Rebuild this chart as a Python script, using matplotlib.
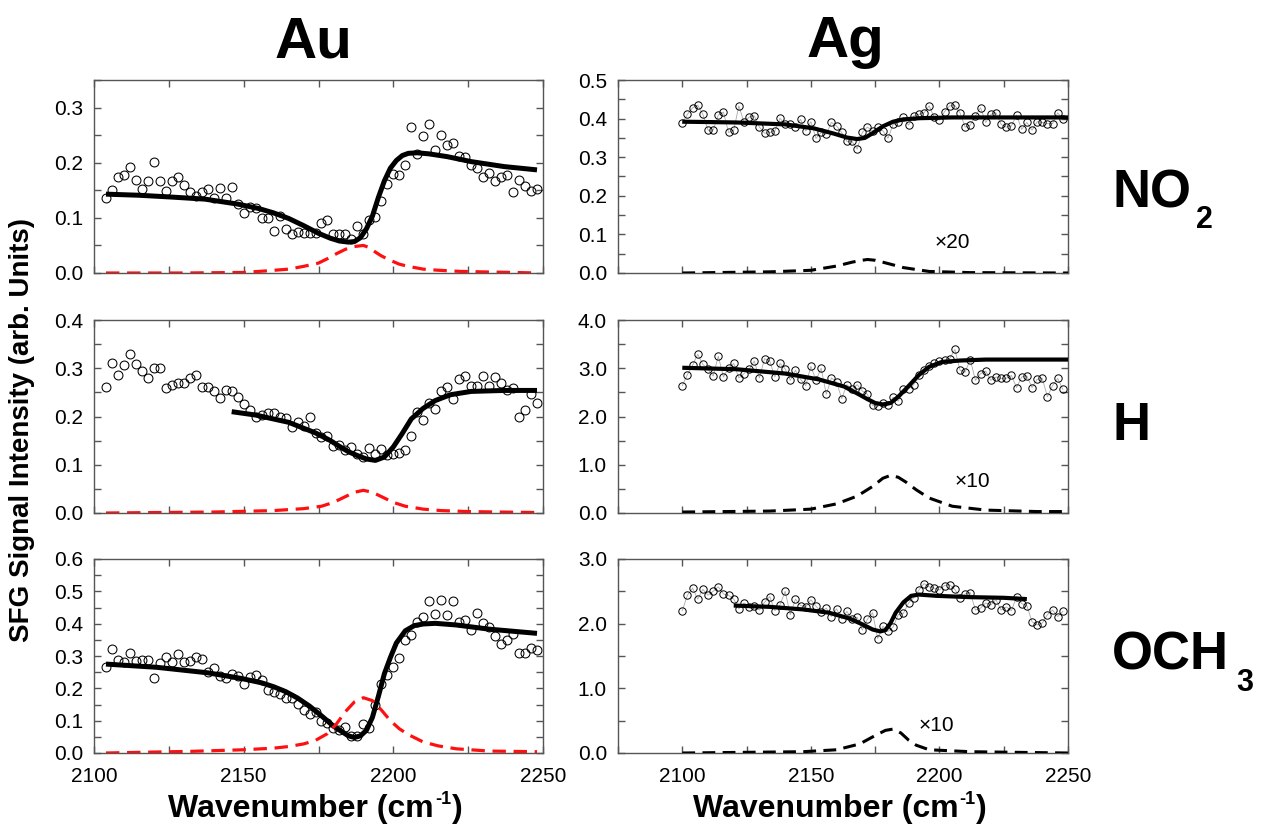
import matplotlib
matplotlib.use('Agg')
import matplotlib.pyplot as plt
from matplotlib.ticker import MultipleLocator, FormatStrFormatter

plt.rcParams['font.family'] = ['Liberation Sans', 'DejaVu Sans']

# ---------------- data ----------------
AU_WN = [2104, 2106, 2108, 2110, 2112, 2114, 2116, 2118, 2120, 2122, 2124, 2126, 2128,
         2130, 2132, 2134, 2136, 2138, 2140, 2142, 2144, 2146, 2148, 2150, 2152, 2154,
         2156, 2158, 2160, 2162, 2164, 2166, 2168, 2170, 2172, 2174, 2176, 2178, 2180,
         2182, 2184, 2186, 2188, 2190, 2192, 2194, 2196, 2198, 2200, 2202, 2204, 2206,
         2208, 2210, 2212, 2214, 2216, 2218, 2220, 2222, 2224, 2226, 2228, 2230, 2232,
         2234, 2236, 2238, 2240, 2242, 2244, 2246, 2248]
AG_WN = [2100, 2102] + AU_WN

AU_NO2 = [0.136, 0.151, 0.175, 0.178, 0.192, 0.169, 0.152, 0.167, 0.201, 0.166, 0.149, 0.166,
          0.175, 0.160, 0.146, 0.139, 0.146, 0.152, 0.136, 0.155, 0.136, 0.156, 0.125, 0.108,
          0.119, 0.118, 0.099, 0.099, 0.076, 0.103, 0.080, 0.071, 0.075, 0.072, 0.072, 0.072,
          0.090, 0.096, 0.071, 0.070, 0.070, 0.061, 0.086, 0.070, 0.097, 0.101, 0.131, 0.161,
          0.179, 0.178, 0.196, 0.265, 0.216, 0.248, 0.270, 0.223, 0.251, 0.233, 0.235, 0.213,
          0.211, 0.195, 0.190, 0.175, 0.181, 0.166, 0.175, 0.178, 0.146, 0.169, 0.158, 0.149,
          0.152]
AU_H = [0.261, 0.311, 0.286, 0.306, 0.329, 0.308, 0.294, 0.280, 0.301, 0.300, 0.260, 0.266,
        0.269, 0.269, 0.280, 0.286, 0.261, 0.261, 0.252, 0.238, 0.255, 0.253, 0.241, 0.226,
        0.214, 0.199, 0.203, 0.208, 0.207, 0.200, 0.197, 0.178, 0.189, 0.181, 0.200, 0.166,
        0.157, 0.159, 0.139, 0.141, 0.130, 0.137, 0.123, 0.116, 0.134, 0.123, 0.132, 0.121,
        0.122, 0.125, 0.130, 0.160, 0.210, 0.193, 0.227, 0.216, 0.253, 0.261, 0.237, 0.278,
        0.283, 0.263, 0.264, 0.283, 0.264, 0.282, 0.270, 0.254, 0.260, 0.200, 0.214, 0.247,
        0.227]
AU_OCH3 = [0.265, 0.322, 0.288, 0.282, 0.310, 0.284, 0.288, 0.288, 0.231, 0.277, 0.298, 0.282,
           0.306, 0.282, 0.286, 0.298, 0.290, 0.249, 0.264, 0.239, 0.233, 0.243, 0.239, 0.212,
           0.236, 0.241, 0.226, 0.194, 0.189, 0.184, 0.169, 0.169, 0.151, 0.134, 0.122, 0.127,
           0.098, 0.093, 0.076, 0.070, 0.081, 0.052, 0.053, 0.089, 0.076, 0.148, 0.213, 0.240,
           0.267, 0.293, 0.350, 0.366, 0.404, 0.422, 0.470, 0.429, 0.472, 0.426, 0.470, 0.404,
           0.410, 0.379, 0.432, 0.401, 0.389, 0.362, 0.337, 0.348, 0.368, 0.309, 0.309, 0.324,
           0.319]
AG_NO2 = [0.388, 0.411, 0.428, 0.435, 0.411, 0.370, 0.370, 0.409, 0.417, 0.364, 0.370, 0.433,
          0.390, 0.404, 0.407, 0.378, 0.362, 0.364, 0.368, 0.401, 0.385, 0.387, 0.378, 0.398,
          0.368, 0.392, 0.349, 0.364, 0.360, 0.390, 0.381, 0.364, 0.341, 0.341, 0.321, 0.364,
          0.378, 0.368, 0.377, 0.368, 0.349, 0.385, 0.390, 0.403, 0.383, 0.407, 0.411, 0.415,
          0.433, 0.403, 0.396, 0.418, 0.433, 0.434, 0.415, 0.378, 0.383, 0.407, 0.428, 0.390,
          0.411, 0.415, 0.385, 0.378, 0.381, 0.409, 0.372, 0.390, 0.370, 0.392, 0.390, 0.387,
          0.387, 0.415, 0.398]
AG_H = [2.64, 2.87, 3.06, 3.29, 3.08, 2.98, 2.84, 3.25, 2.82, 3.01, 3.10, 2.80, 2.89, 2.98,
        3.15, 2.80, 3.20, 3.15, 2.82, 3.10, 2.99, 2.75, 2.96, 2.77, 2.64, 3.04, 2.75, 3.00,
        2.46, 2.80, 2.71, 2.37, 2.66, 2.57, 2.66, 2.53, 2.46, 2.23, 2.21, 2.27, 2.23, 2.40,
        2.32, 2.56, 2.57, 2.66, 2.85, 2.96, 3.04, 3.11, 3.15, 3.17, 3.20, 3.39, 2.96, 2.92,
        3.18, 2.75, 2.89, 2.94, 2.75, 2.82, 2.79, 2.79, 2.85, 2.60, 2.82, 2.84, 2.60, 2.77,
        2.79, 2.41, 2.64, 2.79, 2.56]
AG_OCH3 = [2.20, 2.44, 2.55, 2.38, 2.53, 2.44, 2.50, 2.57, 2.46, 2.44, 2.38, 2.23, 2.32, 2.26,
           2.27, 2.21, 2.33, 2.42, 2.20, 2.29, 2.50, 2.14, 2.38, 2.28, 2.26, 2.37, 2.27, 2.18,
           2.24, 2.11, 2.23, 2.07, 2.19, 2.07, 2.10, 1.90, 2.07, 2.17, 1.77, 1.96, 1.88, 1.95,
           2.14, 2.16, 2.32, 2.40, 2.52, 2.62, 2.57, 2.55, 2.52, 2.59, 2.60, 2.53, 2.40, 2.46,
           2.48, 2.21, 2.24, 2.32, 2.29, 2.37, 2.21, 2.26, 2.20, 2.42, 2.31, 2.28, 2.03, 1.98,
           2.01, 2.14, 2.21, 2.11, 2.19]

# fitted curves
AU_NO2_FIT_X = [2104, 2115, 2125, 2137, 2148, 2155, 2160, 2165, 2170, 2175, 2179, 2182, 2185,
                2187, 2189, 2191, 2193, 2195, 2197, 2199, 2201, 2203, 2205, 2208, 2212, 2218,
                2226, 2237, 2248]
AU_NO2_FIT_Y = [0.143, 0.141, 0.138, 0.134, 0.125, 0.117, 0.109, 0.099, 0.086, 0.072, 0.063,
                0.058, 0.056, 0.057, 0.064, 0.080, 0.103, 0.137, 0.167, 0.190, 0.204, 0.213,
                0.217, 0.218, 0.216, 0.211, 0.202, 0.193, 0.187]
AU_NO2_RES_X = [2104, 2130, 2150, 2158, 2165, 2170, 2175, 2178, 2181, 2184, 2187, 2190, 2192,
                2194, 2196, 2199, 2202, 2205, 2210, 2215, 2222, 2230, 2240, 2248]
AU_NO2_RES_Y = [0.000, 0.000, 0.001, 0.004, 0.007, 0.012, 0.018, 0.026, 0.035, 0.043, 0.048,
                0.050, 0.046, 0.038, 0.031, 0.023, 0.016, 0.012, 0.007, 0.005, 0.003, 0.002,
                0.001, 0.000]

AU_H_FIT_X = [2146, 2154, 2165, 2174, 2179, 2182, 2185, 2188, 2191, 2194, 2197, 2200, 2203,
              2206, 2210, 2214, 2219, 2226, 2237, 2248]
AU_H_FIT_Y = [0.210, 0.203, 0.188, 0.166, 0.150, 0.138, 0.127, 0.119, 0.112, 0.109, 0.116,
              0.137, 0.165, 0.195, 0.217, 0.233, 0.245, 0.252, 0.254, 0.254]
AU_H_RES_X = [2104, 2140, 2160, 2170, 2176, 2180, 2184, 2187, 2190, 2193, 2196, 2200, 2204,
              2210, 2216, 2225, 2235, 2248]
AU_H_RES_Y = [0.000, 0.002, 0.005, 0.009, 0.014, 0.022, 0.034, 0.043, 0.047, 0.043, 0.034,
              0.022, 0.014, 0.008, 0.005, 0.003, 0.002, 0.001]

AU_OCH3_FIT_X = [2104, 2121, 2138, 2149, 2156, 2160, 2164, 2168, 2172, 2176, 2180, 2183, 2185,
                 2187, 2189, 2191, 2193, 2195, 2197, 2199, 2201, 2204, 2207, 2210, 2214, 2221,
                 2232, 2248]
AU_OCH3_FIT_Y = [0.275, 0.265, 0.248, 0.231, 0.217, 0.205, 0.190, 0.170, 0.145, 0.115, 0.083,
                 0.065, 0.053, 0.048, 0.053, 0.070, 0.110, 0.175, 0.245, 0.295, 0.340, 0.378,
                 0.394, 0.399, 0.401, 0.396, 0.383, 0.370]
AU_OCH3_RES_X = [2104, 2132, 2150, 2160, 2165, 2170, 2174, 2178, 2181, 2184, 2187, 2190, 2193,
                 2196, 2199, 2202, 2205, 2210, 2215, 2221, 2232, 2248]
AU_OCH3_RES_Y = [0.000, 0.005, 0.010, 0.015, 0.020, 0.028, 0.039, 0.060, 0.090, 0.128, 0.158,
                 0.171, 0.162, 0.133, 0.100, 0.075, 0.057, 0.034, 0.022, 0.013, 0.006, 0.004]

AG_NO2_FIT_X = [2100, 2121, 2140, 2151, 2159, 2164, 2168, 2171, 2174, 2178, 2182, 2186, 2192,
                2205, 2225, 2250]
AG_NO2_FIT_Y = [0.392, 0.390, 0.385, 0.375, 0.361, 0.351, 0.347, 0.350, 0.362, 0.380, 0.392,
                0.398, 0.401, 0.403, 0.403, 0.403]
AG_NO2_RES_X = [2100, 2134, 2150, 2160, 2166, 2169, 2172, 2175, 2178, 2182, 2186, 2196, 2212,
                2250]
AG_NO2_RES_Y = [0.000, 0.003, 0.007, 0.018, 0.028, 0.032, 0.035, 0.033, 0.028, 0.021, 0.014,
                0.004, 0.001, 0.000]

AG_H_FIT_X = [2100, 2121, 2140, 2153, 2163, 2169, 2172, 2175, 2178, 2181, 2184, 2188, 2192,
              2196, 2201, 2208, 2218, 2231, 2250]
AG_H_FIT_Y = [3.01, 2.98, 2.89, 2.77, 2.62, 2.45, 2.36, 2.28, 2.25, 2.28, 2.41, 2.63, 2.86,
              3.03, 3.13, 3.16, 3.18, 3.18, 3.18]
AG_H_RES_X = [2100, 2134, 2150, 2160, 2168, 2174, 2178, 2181, 2184, 2187, 2191, 2196, 2205,
              2218, 2238, 2250]
AG_H_RES_Y = [0.02, 0.04, 0.08, 0.19, 0.35, 0.55, 0.72, 0.78, 0.74, 0.64, 0.48, 0.31, 0.14,
              0.06, 0.03, 0.03]

AG_OCH3_FIT_X = [2120, 2134, 2147, 2157, 2165, 2170, 2174, 2177, 2179, 2181, 2183, 2186, 2189,
                 2192, 2199, 2212, 2225, 2234]
AG_OCH3_FIT_Y = [2.28, 2.26, 2.22, 2.17, 2.08, 1.99, 1.91, 1.88, 1.90, 2.01, 2.17, 2.33, 2.43,
                 2.45, 2.43, 2.41, 2.40, 2.38]
AG_OCH3_RES_X = [2100, 2147, 2160, 2169, 2175, 2179, 2182, 2185, 2188, 2191, 2196, 2212, 2250]
AG_OCH3_RES_Y = [0.00, 0.02, 0.05, 0.14, 0.27, 0.35, 0.37, 0.31, 0.20, 0.12, 0.05, 0.02, 0.00]

COL_TITLES = ['Au', 'Ag']
ROW_LABELS = [('NO', '2'), ('H', ''), ('OCH', '3')]
SCALE_LABELS = ['\u00d720', '\u00d710', '\u00d710']
SCALE_POS = [(2205, 0.080), (2213, 0.65), (2199, 0.42)]

# ---------------- layout ----------------
W, H = 1262, 825
fig = plt.figure(figsize=(W / 100, H / 100), dpi=100)

COLS = [(94, 543), (618, 1068)]
ROWS = [(80, 273), (320, 513), (559, 753)]


def add_px_axes(l, t, r, b):
    return fig.add_axes([l / W, 1 - b / H, (r - l) / W, (b - t) / H])


panels = [
    dict(col=0, row=0, x=AU_WN, y=AU_NO2, fx=AU_NO2_FIT_X, fy=AU_NO2_FIT_Y,
         rx=AU_NO2_RES_X, ry=AU_NO2_RES_Y, ylim=(0, 0.35), major=0.1, minor=0.05),
    dict(col=0, row=1, x=AU_WN, y=AU_H, fx=AU_H_FIT_X, fy=AU_H_FIT_Y,
         rx=AU_H_RES_X, ry=AU_H_RES_Y, ylim=(0, 0.4), major=0.1, minor=0.05),
    dict(col=0, row=2, x=AU_WN, y=AU_OCH3, fx=AU_OCH3_FIT_X, fy=AU_OCH3_FIT_Y,
         rx=AU_OCH3_RES_X, ry=AU_OCH3_RES_Y, ylim=(0, 0.6), major=0.1, minor=0.05),
    dict(col=1, row=0, x=AG_WN, y=AG_NO2, fx=AG_NO2_FIT_X, fy=AG_NO2_FIT_Y,
         rx=AG_NO2_RES_X, ry=AG_NO2_RES_Y, ylim=(0, 0.5), major=0.1, minor=0.05),
    dict(col=1, row=1, x=AG_WN, y=AG_H, fx=AG_H_FIT_X, fy=AG_H_FIT_Y,
         rx=AG_H_RES_X, ry=AG_H_RES_Y, ylim=(0, 4.0), major=1.0, minor=0.5),
    dict(col=1, row=2, x=AG_WN, y=AG_OCH3, fx=AG_OCH3_FIT_X, fy=AG_OCH3_FIT_Y,
         rx=AG_OCH3_RES_X, ry=AG_OCH3_RES_Y, ylim=(0, 3.0), major=1.0, minor=0.5),
]

FRAME = '#555555'
bottom_axes = []

for p in panels:
    l, r = COLS[p['col']]
    t, b = ROWS[p['row']]
    ax = add_px_axes(l, t, r, b)
    if p['col'] == 0:
        ax.plot(p['x'], p['y'], linestyle='none', marker='o', markersize=6.4,
                markerfacecolor='none', markeredgecolor='black', markeredgewidth=0.75, zorder=2)
        ax.plot(p['fx'], p['fy'], color='black', lw=3.6, solid_capstyle='butt', zorder=3)
        ax.plot(p['rx'], p['ry'], color='#ff1010', lw=2.3, dashes=(4.2, 2.4), zorder=3)
        ax.set_xlim(2100, 2250)
    else:
        ax.plot(p['x'], p['y'], color='#aaaaaa', lw=0.6, marker='o', markersize=5.3,
                markerfacecolor='none', markeredgecolor='black', markeredgewidth=0.7, zorder=2)
        ax.plot(p['fx'], p['fy'], color='black', lw=3.0, solid_capstyle='butt', zorder=3)
        ax.plot(p['rx'], p['ry'], color='black', lw=2.2, dashes=(4.2, 2.4), zorder=3)
        ax.set_xlim(2075, 2250)
        sx, sy = SCALE_POS[p['row']]
        ax.text(sx, sy, SCALE_LABELS[p['row']], fontsize=15, ha='center', va='center')
    ax.set_ylim(*p['ylim'])
    ax.xaxis.set_major_locator(MultipleLocator(50))
    ax.xaxis.set_minor_locator(MultipleLocator(25))
    ax.yaxis.set_major_locator(MultipleLocator(p['major']))
    ax.yaxis.set_minor_locator(MultipleLocator(p['minor']))
    ax.yaxis.set_major_formatter(FormatStrFormatter('%.1f'))
    ax.tick_params(which='both', direction='in', top=True, right=True, length=5,
                   width=1, color=FRAME, labelsize=15)
    ax.tick_params(axis='y', pad=8)
    ax.tick_params(axis='x', pad=10)
    if p['row'] != 2:
        ax.tick_params(labelbottom=False)
    else:
        bottom_axes.append(ax)
    for s in ax.spines.values():
        s.set_color(FRAME)
        s.set_linewidth(1.0)

# column titles
fig.text(313 / W, 1 - 57 / H, COL_TITLES[0], fontsize=42, fontweight='bold',
         ha='center', va='baseline')
fig.text(845 / W, 1 - 57 / H, COL_TITLES[1], fontsize=42, fontweight='bold',
         ha='center', va='baseline')

# row labels with subscripts
ROW_BASE = [207, 440, 670]
SUB_X = [1196, None, 1236]
for (main, sub), base, sx in zip(ROW_LABELS, ROW_BASE, SUB_X):
    fig.text(1112 / W, 1 - base / H, main, fontsize=38, fontweight='bold',
             ha='left', va='baseline')
    if sub:
        fig.text(sx / W, 1 - (base + 21) / H, sub, fontsize=22, fontweight='bold',
                 ha='left', va='baseline')

# axis labels
fig.text(22 / W, 1 - 430 / H, 'SFG Signal Intensity (arb. Units)', fontsize=20,
         fontweight='bold', rotation=90, ha='center', va='center')
for (l, r), axb in zip(COLS, bottom_axes):
    cx = (l + r) / 2
    t1 = fig.text((cx - 150) / W, 1 - 817 / H, 'Wavenumber (cm', fontsize=23,
                  fontweight='bold', ha='left', va='baseline')
    t2 = axb.annotate('-1', xy=(1, 1), xycoords=t1, xytext=(0.5, 2.5),
                      textcoords='offset points', ha='left', va='top', fontsize=13,
                      fontweight='bold', annotation_clip=False)
    axb.annotate(')', xy=(1, 0), xycoords=(t2, t1), xytext=(0.5, 0),
                 textcoords='offset points', ha='left', va='bottom', fontsize=23,
                 fontweight='bold', annotation_clip=False)

fig.savefig('out.png', dpi=100)
